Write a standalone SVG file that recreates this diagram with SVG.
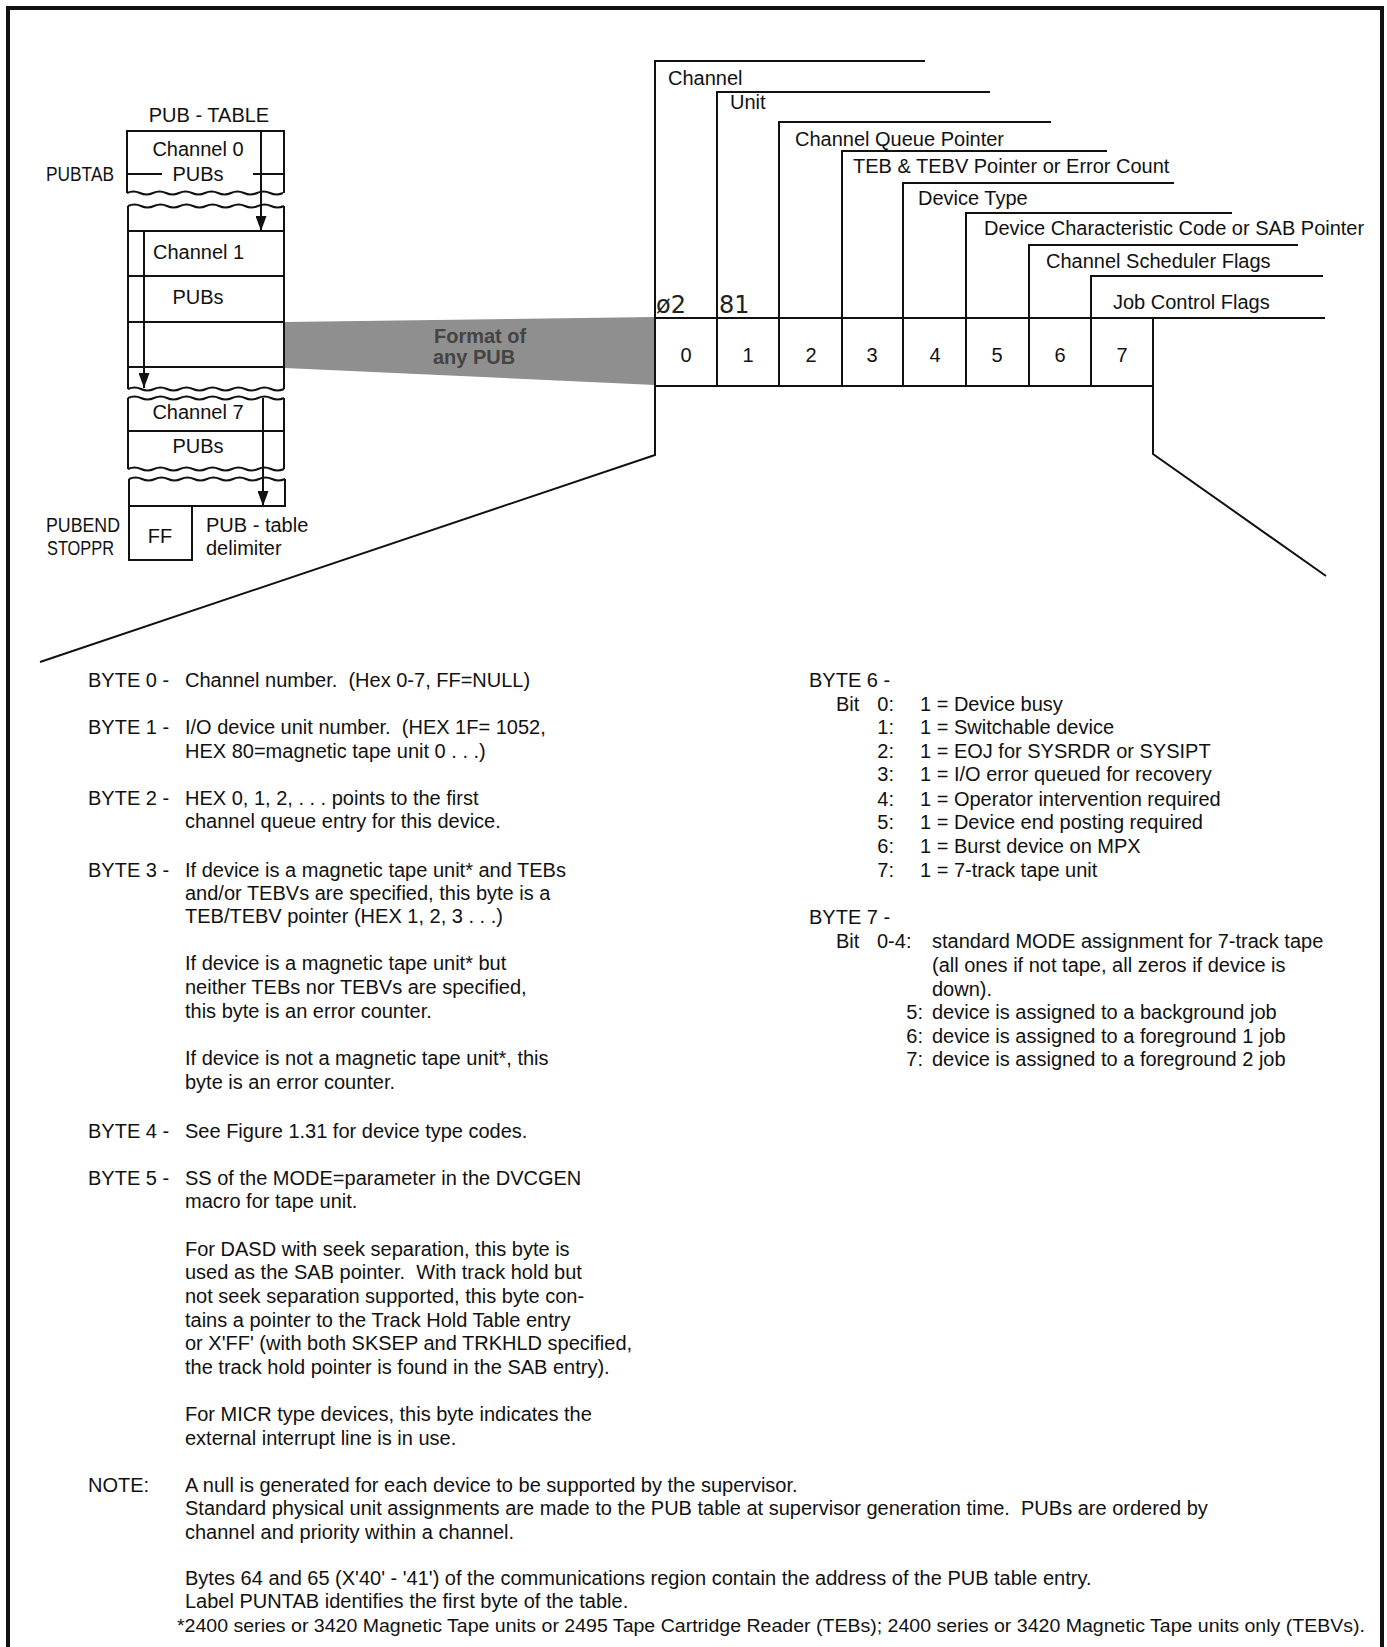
<svg xmlns="http://www.w3.org/2000/svg" width="1387" height="1647" viewBox="0 0 1387 1647">
<style>
.t{font-family:"Liberation Sans",Arial,sans-serif;font-size:20px;fill:#111;white-space:pre}
.c{text-anchor:middle}
.e{text-anchor:end}
.ln{stroke:#111;stroke-width:2;fill:none}
.bd{stroke:#111;stroke-width:4;fill:none}
.hw{font-family:"DejaVu Sans",sans-serif;font-size:24px;fill:#222}
.fmt{font-family:"Liberation Sans",Arial,sans-serif;font-size:20px;font-weight:bold;fill:#444}
.fn{font-size:17.5px}
</style>
<defs>
<marker id="arr" viewBox="0 0 15 11" refX="15" refY="5.5" markerWidth="15" markerHeight="11" markerUnits="userSpaceOnUse" orient="auto">
<path d="M0,0 L15,5.5 L0,11 z" fill="#111"/>
</marker>
</defs>
<rect width="1387" height="1647" fill="#fff"/>
<g id="frame">
<path class="bd" d="M8,1647 V8 H1382 V1647"/>
</g>

<g id="connectors">
<polygon id="format-band" points="285,322 655,317 655,385 285,368" fill="#8f8f8f"/>
<text class="fmt" x="434" y="343">Format of</text>
<text class="fmt" x="433" y="364">any PUB</text>
<path class="ln" d="M655,386 V455 L40,662"/>
<path class="ln" d="M1153,386 V454 L1326,576"/>
<path class="ln" d="M261,131 V231" marker-end="url(#arr)"/>
<path class="ln" d="M144,231 V388" marker-end="url(#arr)"/>
<path class="ln" d="M263,398 V506" marker-end="url(#arr)"/>
</g>

<g id="pub-table-title"><text class="t c" x="209" y="122">PUB - TABLE</text></g>

<g id="box-channel0">
<path class="ln" d="M127,193 V131 H284 V193"/>
<path class="ln" d="M127,193 q6.5,-3 13,0 t13,0 t13,0 t13,0 t13,0 t13,0 t13,0 t13,0 t13,0 t13,0 t13,0 t13,0"/>
<path class="ln" d="M128,174 H162 M253,174 H284"/>
<text class="t c" x="198" y="156">Channel 0</text>
<text class="t c" x="198" y="181">PUBs</text>
<text class="t" x="46" y="181" textLength="68" lengthAdjust="spacingAndGlyphs">PUBTAB</text>
</g>

<g id="box-channel1">
<path class="ln" d="M128,206 q6.5,-3 13,0 t13,0 t13,0 t13,0 t13,0 t13,0 t13,0 t13,0 t13,0 t13,0 t13,0 t13,0"/>
<path class="ln" d="M128,206 V389 M284,206 V389"/>
<path class="ln" d="M128,231 H284 M128,276 H284 M128,322 H284 M128,367 H284"/>
<path class="ln" d="M128,389 q6.5,-3 13,0 t13,0 t13,0 t13,0 t13,0 t13,0 t13,0 t13,0 t13,0 t13,0 t13,0 t13,0"/>
<text class="t" x="153" y="259">Channel 1</text>
<text class="t c" x="198" y="304">PUBs</text>
</g>

<g id="box-channel7">
<path class="ln" d="M128,398 q6.5,-3 13,0 t13,0 t13,0 t13,0 t13,0 t13,0 t13,0 t13,0 t13,0 t13,0 t13,0 t13,0"/>
<path class="ln" d="M128,398 V469 M284,398 V469"/>
<path class="ln" d="M128,431 H284"/>
<path class="ln" d="M128,469 q6.5,-3 13,0 t13,0 t13,0 t13,0 t13,0 t13,0 t13,0 t13,0 t13,0 t13,0 t13,0 t13,0"/>
<text class="t c" x="198" y="419">Channel 7</text>
<text class="t c" x="198" y="453">PUBs</text>
</g>

<g id="box-last">
<path class="ln" d="M129,479 q6.5,-3 13,0 t13,0 t13,0 t13,0 t13,0 t13,0 t13,0 t13,0 t13,0 t13,0 t13,0 t13,0"/>
<path class="ln" d="M129,479 V506 H285 V479"/>
</g>

<g id="box-ff">
<path class="ln" d="M129,506 V560 H192 V506"/>
<text class="t c" x="160" y="543">FF</text>
<text class="t" x="46" y="532" textLength="74" lengthAdjust="spacingAndGlyphs">PUBEND</text>
<text class="t" x="47" y="555" textLength="67" lengthAdjust="spacingAndGlyphs">STOPPR</text>
<text class="t" x="206" y="532">PUB - table</text>
<text class="t" x="206" y="555">delimiter</text>
</g>

<g id="pub-format">
<path class="ln" d="M655,386 V61 H925"/>
<path class="ln" d="M717,386 V92 H990"/>
<path class="ln" d="M779,386 V122 H1051"/>
<path class="ln" d="M842,386 V151 H1107"/>
<path class="ln" d="M903,386 V183 H1174"/>
<path class="ln" d="M966,386 V213 H1232"/>
<path class="ln" d="M1029,386 V245 H1298"/>
<path class="ln" d="M1091,386 V276 H1323"/>
<path class="ln" d="M655,318 H1325 M655,386 H1153 M1153,318 V386"/>
<text class="t" x="668" y="85">Channel</text>
<text class="t" x="730" y="109">Unit</text>
<text class="t" x="795" y="146">Channel Queue Pointer</text>
<text class="t" x="853" y="173">TEB &amp; TEBV Pointer or Error Count</text>
<text class="t" x="918" y="205">Device Type</text>
<text class="t" x="984" y="235">Device Characteristic Code or SAB Pointer</text>
<text class="t" x="1046" y="268">Channel Scheduler Flags</text>
<text class="t" x="1113" y="309">Job Control Flags</text>
<text class="t c" x="686" y="362">0</text>
<text class="t c" x="748" y="362">1</text>
<text class="t c" x="811" y="362">2</text>
<text class="t c" x="872" y="362">3</text>
<text class="t c" x="935" y="362">4</text>
<text class="t c" x="997" y="362">5</text>
<text class="t c" x="1060" y="362">6</text>
<text class="t c" x="1122" y="362">7</text>
<text class="hw" x="656" y="313">ø2</text>
<text class="hw" x="719" y="313">81</text>
</g>

<g id="byte-descriptions">
<text class="t" x="88" y="687">BYTE 0 -</text>
<text class="t" x="185" y="687">Channel number.  (Hex 0-7, FF=NULL)</text>
<text class="t" x="88" y="734">BYTE 1 -</text>
<text class="t" x="185" y="734">I/O device unit number.  (HEX 1F= 1052,</text>
<text class="t" x="185" y="758">HEX 80=magnetic tape unit 0 . . .)</text>
<text class="t" x="88" y="805">BYTE 2 -</text>
<text class="t" x="185" y="805">HEX 0, 1, 2, . . . points to the first</text>
<text class="t" x="185" y="828">channel queue entry for this device.</text>
<text class="t" x="88" y="877">BYTE 3 -</text>
<text class="t" x="185" y="877">If device is a magnetic tape unit* and TEBs</text>
<text class="t" x="185" y="900">and/or TEBVs are specified, this byte is a</text>
<text class="t" x="185" y="923">TEB/TEBV pointer (HEX 1, 2, 3 . . .)</text>
<text class="t" x="185" y="970">If device is a magnetic tape unit* but</text>
<text class="t" x="185" y="994">neither TEBs nor TEBVs are specified,</text>
<text class="t" x="185" y="1018">this byte is an error counter.</text>
<text class="t" x="185" y="1065">If device is not a magnetic tape unit*, this</text>
<text class="t" x="185" y="1089">byte is an error counter.</text>
<text class="t" x="88" y="1138">BYTE 4 -</text>
<text class="t" x="185" y="1138">See Figure 1.31 for device type codes.</text>
<text class="t" x="88" y="1185">BYTE 5 -</text>
<text class="t" x="185" y="1185">SS of the MODE=parameter in the DVCGEN</text>
<text class="t" x="185" y="1208">macro for tape unit.</text>
<text class="t" x="185" y="1256">For DASD with seek separation, this byte is</text>
<text class="t" x="185" y="1279">used as the SAB pointer.  With track hold but</text>
<text class="t" x="185" y="1303">not seek separation supported, this byte con-</text>
<text class="t" x="185" y="1327">tains a pointer to the Track Hold Table entry</text>
<text class="t" x="185" y="1350">or X'FF' (with both SKSEP and TRKHLD specified,</text>
<text class="t" x="185" y="1374">the track hold pointer is found in the SAB entry).</text>
<text class="t" x="185" y="1421">For MICR type devices, this byte indicates the</text>
<text class="t" x="185" y="1445">external interrupt line is in use.</text>
</g>

<g id="byte6-7">
<text class="t" x="809" y="687">BYTE 6 -</text>
<text class="t" x="836" y="711">Bit</text>
<text class="t e" x="894" y="711">0:</text>
<text class="t e" x="894" y="734">1:</text>
<text class="t e" x="894" y="758">2:</text>
<text class="t e" x="894" y="781">3:</text>
<text class="t e" x="894" y="806">4:</text>
<text class="t e" x="894" y="829">5:</text>
<text class="t e" x="894" y="853">6:</text>
<text class="t e" x="894" y="877">7:</text>
<text class="t" x="920" y="711">1 = Device busy</text>
<text class="t" x="920" y="734">1 = Switchable device</text>
<text class="t" x="920" y="758">1 = EOJ for SYSRDR or SYSIPT</text>
<text class="t" x="920" y="781">1 = I/O error queued for recovery</text>
<text class="t" x="920" y="806">1 = Operator intervention required</text>
<text class="t" x="920" y="829">1 = Device end posting required</text>
<text class="t" x="920" y="853">1 = Burst device on MPX</text>
<text class="t" x="920" y="877">1 = 7-track tape unit</text>
<text class="t" x="809" y="924">BYTE 7 -</text>
<text class="t" x="836" y="948">Bit</text>
<text class="t" x="877" y="948">0-4:</text>
<text class="t" x="932" y="948">standard MODE assignment for 7-track tape</text>
<text class="t" x="932" y="972">(all ones if not tape, all zeros if device is</text>
<text class="t" x="932" y="996">down).</text>
<text class="t e" x="923" y="1019">5:</text>
<text class="t e" x="923" y="1043">6:</text>
<text class="t e" x="923" y="1066">7:</text>
<text class="t" x="932" y="1019">device is assigned to a background job</text>
<text class="t" x="932" y="1043">device is assigned to a foreground 1 job</text>
<text class="t" x="932" y="1066">device is assigned to a foreground 2 job</text>
</g>

<g id="notes">
<text class="t" x="88" y="1492">NOTE:</text>
<text class="t" x="185" y="1492">A null is generated for each device to be supported by the supervisor.</text>
<text class="t" x="185" y="1515">Standard physical unit assignments are made to the PUB table at supervisor generation time.  PUBs are ordered by</text>
<text class="t" x="185" y="1539">channel and priority within a channel.</text>
<text class="t" x="185" y="1585">Bytes 64 and 65 (X'40' - '41') of the communications region contain the address of the PUB table entry.</text>
<text class="t" x="185" y="1608">Label PUNTAB identifies the first byte of the table.</text>
<text class="t fn" x="177" y="1632" textLength="1188" lengthAdjust="spacingAndGlyphs">*2400 series or 3420 Magnetic Tape units or 2495 Tape Cartridge Reader (TEBs); 2400 series or 3420 Magnetic Tape units only (TEBVs).</text>
</g>
</svg>
